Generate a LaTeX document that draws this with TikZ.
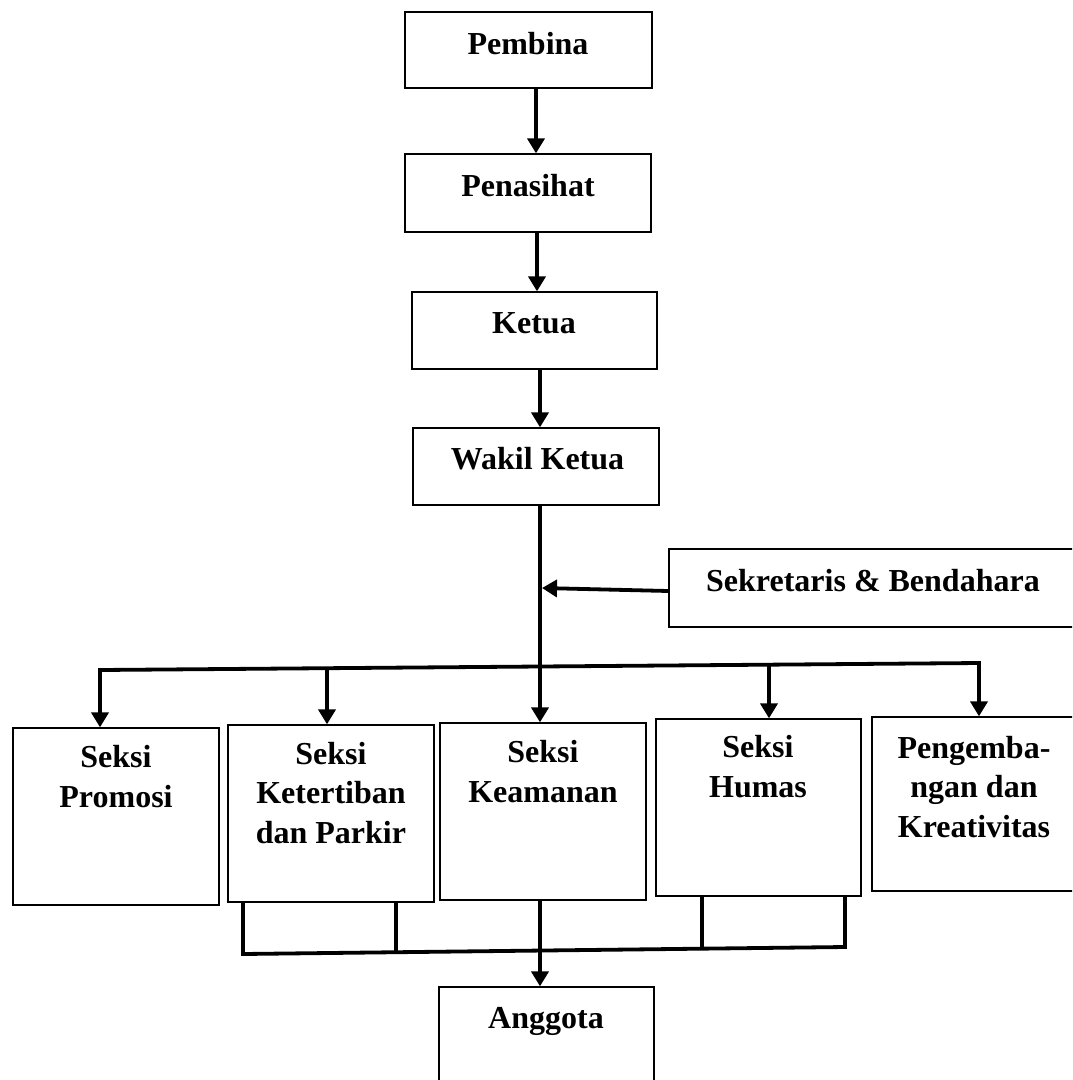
\documentclass[tikz,border=0pt]{standalone}
\usepackage{fontspec}
\setmainfont{Liberation Serif}
\usetikzlibrary{arrows.meta}
\tikzset{
  box/.style={draw, line width=1.3pt, inner sep=0pt, fill=none},
  lbl/.style={inner sep=0pt, align=center, anchor=base, font=\fontsize{32}{39.5}\selectfont\bfseries},
  conn/.style={line width=3.8pt},
  arr/.style={line width=3.8pt, -{Triangle[width=17pt,length=15pt]}}
}
\begin{document}
\begin{tikzpicture}[x=1pt,y=-1pt]
\clip (0,0) rectangle (1072,1080);
\fill[white] (0,0) rectangle (1072,1080);
% boxes
\node[box, minimum width=247pt, minimum height=76pt] (pembina) at (528.5,50) {};
\node[box, minimum width=246pt, minimum height=78pt] (penasihat) at (528,193) {};
\node[box, minimum width=245pt, minimum height=77pt] (ketua) at (534.5,330.5) {};
\node[box, minimum width=246pt, minimum height=77pt] (wakil) at (536,466.5) {};
\node[box, minimum width=416pt, minimum height=78pt] (sekretaris) at (877,588) {};
\node[box, minimum width=206pt, minimum height=177pt] (promosi) at (116,816.5) {};
\node[box, minimum width=206pt, minimum height=177pt] (ketertiban) at (331,813.5) {};
\node[box, minimum width=206pt, minimum height=177pt] (keamanan) at (543,811.5) {};
\node[box, minimum width=205pt, minimum height=177pt] (humas) at (758.5,807.5) {};
\node[box, minimum width=213pt, minimum height=174pt] (pengembangan) at (978.5,804) {};
\node[box, minimum width=215pt, minimum height=108pt] (anggota) at (546.5,1041) {};
% labels (base = baseline of the last line)
\node[lbl] (tPembina) at (528,54) {Pembina};
\node[lbl] (tPenasihat) at (528,196) {Penasihat};
\node[lbl] (tKetua) at (534,333) {Ketua};
\node[lbl] (tWakil) at (537.5,469) {Wakil Ketua};
\node[lbl] (tSekretaris) at (873,591) {Sekretaris \& Bendahara};
\node[lbl] (tPromosi) at (116,807) {Seksi\\Promosi};
\node[lbl] (tKetertiban) at (331,843) {Seksi\\Ketertiban\\dan Parkir};
\node[lbl] (tKeamanan) at (543,802) {Seksi\\Keamanan};
\node[lbl] (tHumas) at (758,797) {Seksi\\Humas};
\node[lbl] (tPengembangan) at (974,837) {Pengemba-\\ngan dan\\Kreativitas};
\node[lbl] (tAnggota) at (546,1028) {Anggota};
% vertical chain
\draw[arr] ([xshift=7.5pt]pembina.south) -- ([xshift=8pt]penasihat.north);
\draw[arr] ([xshift=9pt]penasihat.south) -- ([xshift=2.5pt]ketua.north);
\draw[arr] ([xshift=5.5pt]ketua.south) -- ([xshift=4pt]wakil.north);
\draw[arr] ([xshift=4pt]wakil.south) -- ([xshift=-3pt]keamanan.north);
% sekretaris
\coordinate (sekTip) at (542,588);
\draw[arr] ([yshift=-3pt]sekretaris.west) -- (sekTip);
% top bus
\coordinate (dP) at (100,670);
\coordinate (dK) at (327,668.5);
\coordinate (dH) at (769,665);
\coordinate (dG) at (979,663);
\draw[conn, line cap=rect] (dP) -- (dG);
\draw[arr] (dP) -- (dP |- promosi.north);
\draw[arr] (dK) -- (dK |- ketertiban.north);
\draw[arr] (dH) -- (dH |- humas.north);
\draw[arr] (dG) -- (dG |- pengembangan.north);
% bottom bus
\coordinate (bA) at (243,954);
\coordinate (bB) at (396,952.5);
\coordinate (bC) at (702,948.5);
\coordinate (bD) at (845,947);
\draw[conn, line cap=rect] (bA) -- (bD);
\draw[conn] (ketertiban.south -| bA) -- (bA);
\draw[conn] (ketertiban.south -| bB) -- (bB);
\draw[conn] (humas.south -| bC) -- (bC);
\draw[conn] (humas.south -| bD) -- (bD);
\draw[arr] ([xshift=-3pt]keamanan.south) -- ([xshift=-6.5pt]anggota.north);
\end{tikzpicture}
\end{document}
